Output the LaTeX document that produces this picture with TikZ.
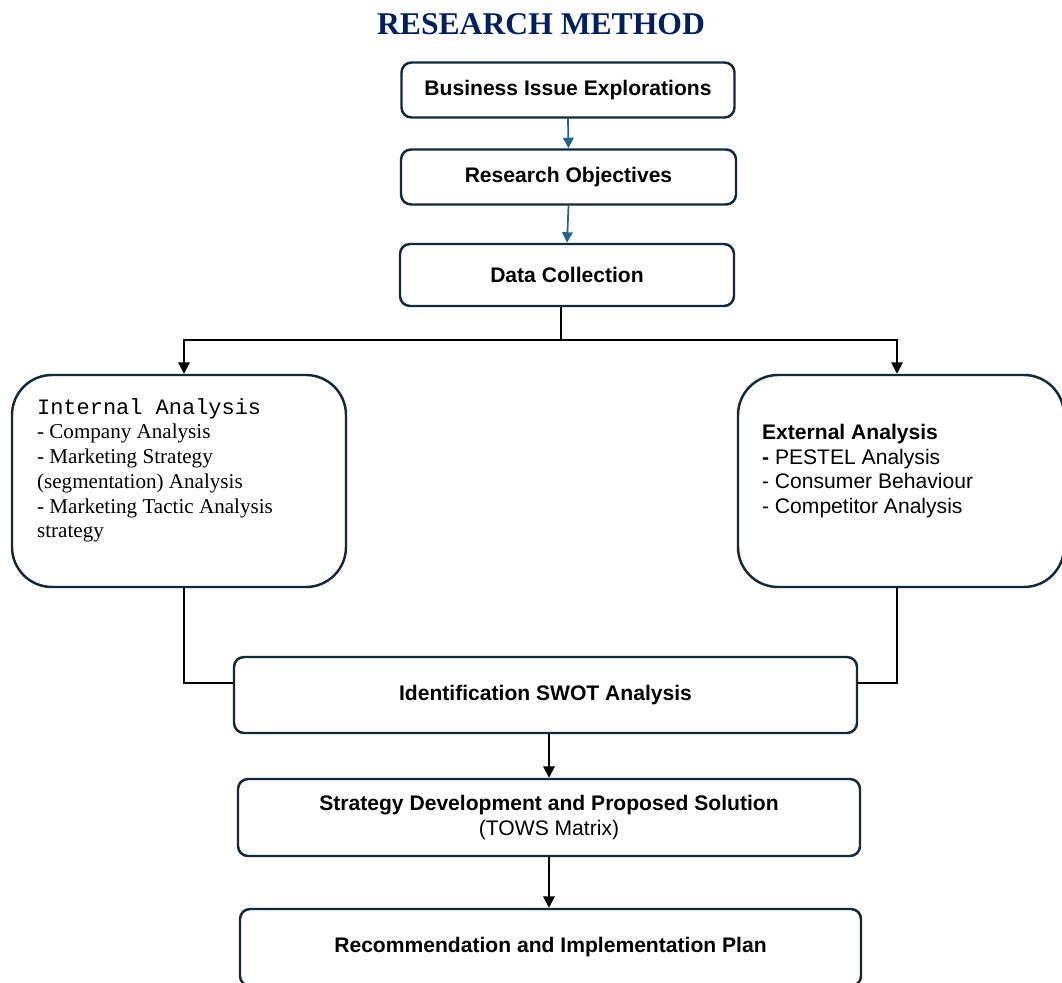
\documentclass[tikz,border=0pt]{standalone}
\usepackage{fontspec}
\setmainfont{Liberation Sans}
\newfontfamily\timesfont{Liberation Serif}
\newfontfamily\courfont{Liberation Mono}
\usetikzlibrary{positioning,arrows.meta}
\definecolor{boxline}{RGB}{16,42,58}
\definecolor{titleblue}{RGB}{0,32,96}
\definecolor{tealarrow}{RGB}{32,104,134}
\tikzset{
  flowbox/.style={draw=boxline,line width=1.4pt,rounded corners=0.2cm,
    minimum width=#1,minimum height=1.1cm,inner sep=0pt,align=center,
    font=\fontsize{12}{14}\selectfont},
  bigbox/.style={draw=boxline,line width=1.4pt,rounded corners=0.8cm,
    minimum width=#1,minimum height=4.24cm,inner sep=0pt},
  boxtext/.style={inner sep=0pt,align=left,font=\fontsize{12}{14.1}\selectfont},
  conn/.style={line width=1.1pt,-{Triangle[length=6.5pt,width=6.5pt]}},
  plain/.style={line width=1.1pt},
  tealconn/.style={draw=tealarrow,line width=1pt,-{Triangle[length=6pt,width=6pt]}}
}
\begin{document}
\begin{tikzpicture}%research method flow
\useasboundingbox (0,0) rectangle (21.24,-19.66);
\node[font=\timesfont\bfseries\fontsize{18}{20}\selectfont,text=titleblue] (title) at (10.82,-0.48) {RESEARCH METHOD};
\node[flowbox=6.66cm] (bie) at (11.36,-1.80) {\textbf{Business Issue Explorations}};
\node[flowbox=6.70cm] (obj) at (11.37,-3.54) {\textbf{Research Objectives}};
\node[flowbox=6.68cm,minimum height=1.24cm] (data) at (11.34,-5.50) {\textbf{Data Collection}};
\node[bigbox=6.68cm] (inta) at (3.58,-9.62) {};
\node[bigbox=6.52cm] (exta) at (18.02,-9.62) {};
\node[boxtext,below right=0.48cm and 0.52cm of inta.north west] (intt)
  {{\courfont\fontsize{12.5}{14.1}\selectfont Internal Analysis}\\
   {\timesfont - Company Analysis}\\
   {\timesfont - Marketing Strategy}\\
   {\timesfont (segmentation) Analysis}\\
   {\timesfont - Marketing Tactic Analysis}\\
   {\timesfont strategy}};
\node[boxtext,below right=1.0cm and 0.5cm of exta.north west] (extt)
  {\textbf{External Analysis}\\
   \textbf{-} PESTEL Analysis\\
   - Consumer Behaviour\\
   - Competitor Analysis};
\node[flowbox=12.46cm,minimum height=1.52cm] (swot) at (10.91,-13.90) {\textbf{Identification SWOT Analysis}};
\node[flowbox=12.44cm,minimum height=1.54cm] (tows) at (10.98,-16.35)
  {\textbf{Strategy Development and Proposed Solution}\\(TOWS Matrix)};
\node[flowbox=12.42cm,minimum height=1.54cm] (plan) at (11.01,-18.95) {\textbf{Recommendation and Implementation Plan}};
\coordinate (fork) at (11.22,-6.8);
\draw[tealconn] (bie.south) -- (obj.north);
\draw[tealconn] (obj.south) -- (data.north);
\draw[plain] (data.south -| fork) -- (fork);
\draw[conn] (fork) -| ([xshift=0.1cm]inta.north);
\draw[conn] (fork) -| ([xshift=-0.08cm]exta.north);
\draw[plain] ([xshift=0.1cm]inta.south) |- ([yshift=0.24cm]swot.west);
\draw[plain] ([xshift=-0.08cm]exta.south) |- ([yshift=0.24cm]swot.east);
\draw[conn] (tows.north |- swot.south) -- (tows.north);
\draw[conn] (tows.south) -- (tows.south |- plan.north);
\end{tikzpicture}
\end{document}
